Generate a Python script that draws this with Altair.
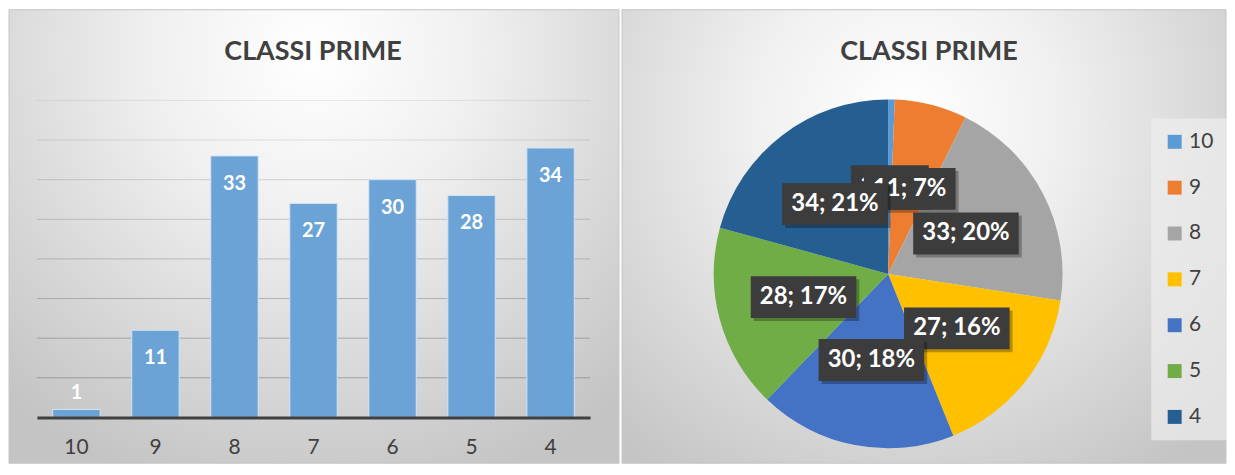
import altair as alt
import pandas as pd

# ---------------- data ----------------
TITLE = "CLASSI PRIME"
CATEGORIES = ["10", "9", "8", "7", "6", "5", "4"]
VALUES = [1, 11, 33, 27, 30, 28, 34]
PIE_COLORS = ["#5B9BD5", "#ED7D31", "#A5A5A5", "#FFC000", "#4472C4", "#70AD47", "#255E91"]
GRID_VALUES = [5, 10, 15, 20, 25, 30, 35, 40]
Y_MAX = 40

FONT = "Lato"
TEXT_COLOR = "#404040"

df = pd.DataFrame({"cat": CATEGORIES, "val": VALUES, "idx": list(range(len(CATEGORIES)))})
grid_df = pd.DataFrame({"g": GRID_VALUES})
one = pd.DataFrame({"t": [TITLE]})

# ---------------- geometry / style ----------------
BAR_W, BAR_H = 555, 318
PANEL_TOP, PANEL_BOTTOM = -91, 364
LEFT_X0, LEFT_X1 = -28, 584
RIGHT_W = 606
CX, CY, R = 267, 174, 175
LABEL_R = 88
# legend position (legends of a concatenated chart are placed from the first view's origin)
LEGEND_X, LEGEND_Y = 1118, 18


def grad(cx, cy, r2, c0="#ffffff", c1="#c4c4c4"):
    return {
        "gradient": "radial",
        "x1": cx, "y1": cy, "r1": 0,
        "x2": cx, "y2": cy, "r2": r2,
        "stops": [
            {"offset": 0, "color": c0},
            {"offset": 0.35, "color": "#f0f0f0"},
            {"offset": 1, "color": c1},
        ],
    }


yscale = alt.Scale(domain=[0, Y_MAX], nice=False, zero=True)

# ---------------- left: bar chart ----------------
bg_left = alt.Chart(one).mark_rect(
    fill=grad(0.5, 0.2, 0.75), stroke="#c6c6c6", strokeWidth=1
).encode(
    x=alt.value(LEFT_X0), x2=alt.value(LEFT_X1),
    y=alt.value(PANEL_TOP), y2=alt.value(PANEL_BOTTOM),
)

title_left = alt.Chart(one).mark_text(
    font=FONT, fontSize=27, fontWeight="bold", color=TEXT_COLOR, baseline="alphabetic", align="center"
).encode(text="t:N", x=alt.value(277), y=alt.value(-41))

grid = alt.Chart(grid_df).mark_rule(color="#7a7a7a", strokeWidth=1).encode(
    y=alt.Y("g:Q", scale=yscale, axis=None),
    x=alt.value(0), x2=alt.value(BAR_W),
    strokeOpacity=alt.StrokeOpacity("g:Q", scale=alt.Scale(domain=[5, 40], range=[0.6, 0.15]), legend=None),
)

xaxis = alt.Axis(
    title=None, labelAngle=0, ticks=False, grid=False,
    domainColor="#404040", domainWidth=3,
    labelFont=FONT, labelFontSize=21, labelColor=TEXT_COLOR, labelPadding=19, zindex=1,
)

bars = alt.Chart(df).mark_bar(color="#6ba3d6", stroke="#d3e4f4", strokeWidth=1).encode(
    x=alt.X("cat:N", sort=CATEGORIES, scale=alt.Scale(paddingInner=0.4, paddingOuter=0.2), axis=xaxis),
    y=alt.Y("val:Q", scale=yscale, axis=None),
)

lab_in = alt.Chart(df).transform_filter(alt.datum.val >= 5).mark_text(
    font=FONT, fontSize=20, fontWeight="bold", color="white", dy=28, baseline="middle"
).encode(x=alt.X("cat:N", sort=CATEGORIES), y=alt.Y("val:Q", scale=yscale), text="val:Q")

lab_out = alt.Chart(df).transform_filter(alt.datum.val < 5).mark_text(
    font=FONT, fontSize=20, fontWeight="bold", color="white", dy=-17, baseline="middle"
).encode(x=alt.X("cat:N", sort=CATEGORIES), y=alt.Y("val:Q", scale=yscale), text="val:Q")

left = alt.layer(bg_left, title_left, grid, bars, lab_in, lab_out).properties(width=BAR_W, height=BAR_H)

# ---------------- right: pie chart ----------------
bg_right = alt.Chart(one).mark_rect(
    fill=grad(0.47, 0.3, 0.72), stroke="#c6c6c6", strokeWidth=1
).encode(
    x=alt.value(0), x2=alt.value(RIGHT_W),
    y=alt.value(PANEL_TOP), y2=alt.value(PANEL_BOTTOM),
)

title_right = alt.Chart(one).mark_text(
    font=FONT, fontSize=27, fontWeight="bold", color=TEXT_COLOR, baseline="alphabetic", align="center"
).encode(text="t:N", x=alt.value(308), y=alt.value(-41))

legend = alt.Legend(
    title=None, orient="none", legendX=LEGEND_X, legendY=LEGEND_Y, direction="vertical",
    symbolType="square", symbolSize=196, symbolStrokeWidth=0, symbolOpacity=1,
    labelFont=FONT, labelFontSize=21, labelColor=TEXT_COLOR, labelOffset=4,
    rowPadding=24, padding=13, fillColor="rgba(238,238,238,0.7)",
)

pie = alt.Chart(df).mark_arc(outerRadius=R).encode(
    theta=alt.Theta("val:Q", stack=True),
    color=alt.Color("cat:N", sort=CATEGORIES, scale=alt.Scale(domain=CATEGORIES, range=PIE_COLORS), legend=legend),
    order=alt.Order("idx:Q"),
    x=alt.value(CX), y=alt.value(CY),
)

base = alt.Chart(df).transform_joinaggregate(
    total="sum(val)"
).transform_window(
    cum="sum(val)", sort=[alt.SortField("idx")], frame=[None, 0]
).transform_calculate(
    mid="(datum.cum - datum.val / 2) / datum.total * 2 * PI",
    label="datum.val + '; ' + round(datum.val / datum.total * 100) + '%'",
).transform_calculate(
    px=f"{CX} + {LABEL_R} * sin(datum.mid)",
    py=f"{CY} - {LABEL_R} * cos(datum.mid)",
    bw="20 + 24 * (0.58 * (length(datum.label) - 3) + 1.26)",
).transform_calculate(
    bx1="datum.px - datum.bw / 2", bx2="datum.px + datum.bw / 2",
    by1="datum.py - 21", by2="datum.py + 21",
    sx1="datum.px - datum.bw / 2 + 3", sx2="datum.px + datum.bw / 2 + 3",
    sy1="datum.py - 21 + 3", sy2="datum.py + 21 + 3",
)

label_layers = []
for c in CATEGORIES:
    sub = base.transform_filter(alt.datum.cat == c)
    shadow = sub.mark_rect(fill="black", opacity=0.28).encode(
        x=alt.X("sx1:Q", scale=None, axis=None), x2="sx2:Q",
        y=alt.Y("sy1:Q", scale=None, axis=None), y2="sy2:Q",
    )
    box = sub.mark_rect(fill="#3c3c3c").encode(
        x=alt.X("bx1:Q", scale=None, axis=None), x2="bx2:Q",
        y=alt.Y("by1:Q", scale=None, axis=None), y2="by2:Q",
    )
    txt = sub.mark_text(
        font=FONT, fontSize=24, fontWeight="bold", color="white", align="center", baseline="middle"
    ).encode(
        x=alt.X("px:Q", scale=None, axis=None),
        y=alt.Y("py:Q", scale=None, axis=None),
        text="label:N",
    )
    label_layers += [shadow, box, txt]

right = alt.layer(bg_right, title_right, pie, *label_layers).properties(width=RIGHT_W, height=BAR_H)

chart = alt.hconcat(left, right, spacing=1, padding=0).configure_view(stroke=None)

chart.save("out.html", embed_options={"renderer": "svg", "actions": False})
